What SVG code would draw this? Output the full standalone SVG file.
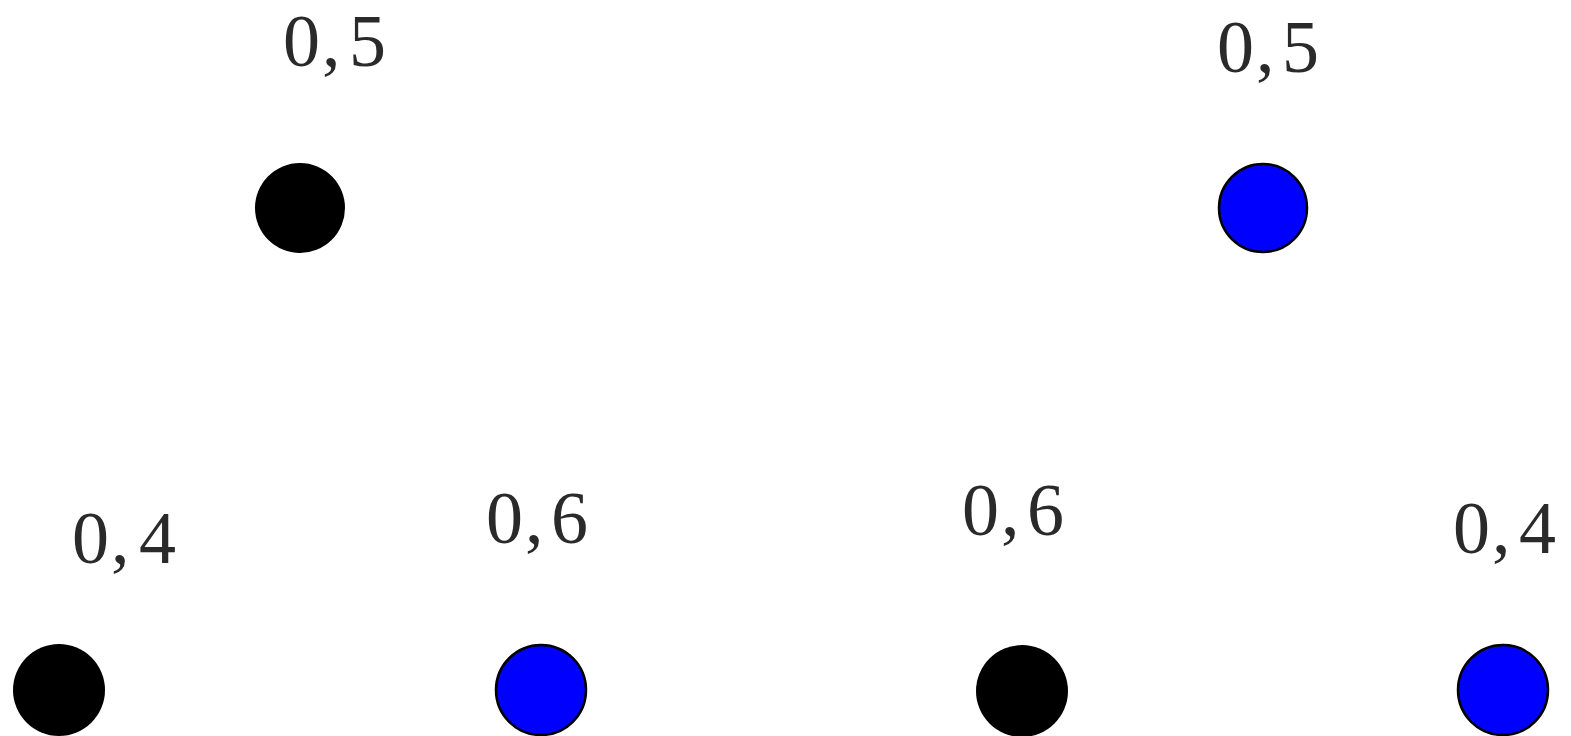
<svg xmlns="http://www.w3.org/2000/svg" width="1571" height="736" viewBox="0 0 1571 736">
<style>
.lbl{font-family:"Liberation Serif","Times New Roman",serif;font-size:74px;fill:#2a2a2a;}
.blk{fill:#000;}
.blu{fill:#0000ff;stroke:#000;stroke-width:2.5;}
</style>
<rect width="1571" height="736" fill="#fff"/>
<g id="connectors"></g>
<g id="n1"><circle class="blk" cx="300" cy="208" r="45"/><text class="lbl" x="283 322 349" y="66">0,5</text></g>
<g id="n2"><circle class="blu" cx="1263" cy="208" r="44"/><text class="lbl" x="1217 1256 1282" y="72">0,5</text></g>
<g id="n3"><circle class="blk" cx="59" cy="690" r="46"/><text class="lbl" x="72 111 139" y="563">0,4</text></g>
<g id="n4"><circle class="blu" cx="541" cy="690" r="45"/><text class="lbl" x="486 525 551" y="543">0,6</text></g>
<g id="n5"><circle class="blk" cx="1022" cy="691" r="46"/><text class="lbl" x="962 1001 1027" y="535">0,6</text></g>
<g id="n6"><circle class="blu" cx="1503" cy="690" r="45"/><text class="lbl" x="1453 1492 1519" y="553">0,4</text></g>
</svg>
